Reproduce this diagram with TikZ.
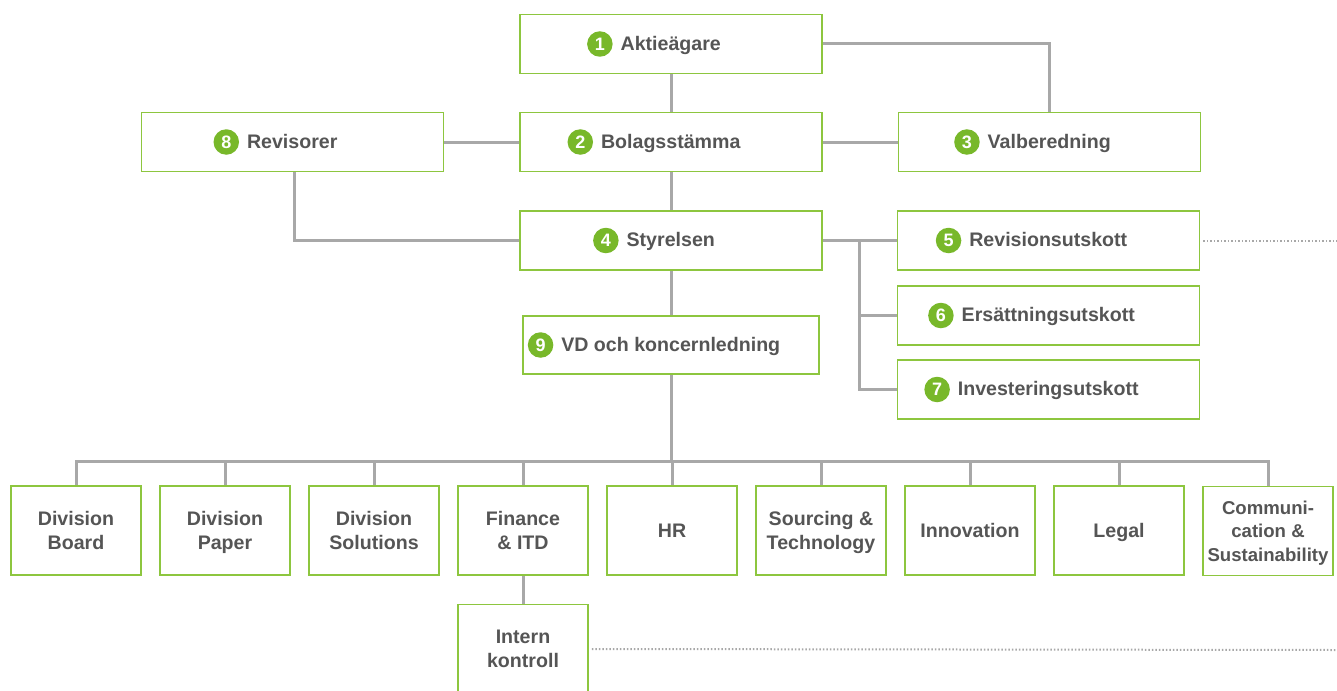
\documentclass[tikz,border=0pt]{standalone}
\usepackage{fontspec}
\setmainfont{Liberation Sans}
\definecolor{boxgreen}{HTML}{8DC63F}
\definecolor{badgegreen}{HTML}{78B82A}
\definecolor{txt}{HTML}{555555}
\definecolor{linegray}{HTML}{A8A8A8}
\newcommand\badge[1]{\tikz[baseline=(bb.base)]\node[circle,fill=badgegreen,text=white,inner sep=0pt,minimum size=25.5pt,font=\bfseries\fontsize{18}{18}\selectfont](bb){#1};}
\newcommand\lab[2]{\badge{#1}\hspace{8pt}#2\hspace*{34pt}}
\tikzset{
  mainbox/.style={draw=boxgreen,line width=1.6pt,fill=white,text=txt,minimum width=302pt,minimum height=59pt,inner sep=0pt,font=\bfseries\fontsize{19.6}{23}\selectfont},
  smallbox/.style={draw=boxgreen,line width=1.6pt,fill=white,text=txt,minimum width=130pt,minimum height=89pt,inner sep=0pt,align=center,text depth=0pt,font=\bfseries\fontsize{19.6}{24}\selectfont},
  conn/.style={draw=linegray,line width=3pt},
  dotline/.style={draw=linegray,line width=2pt,dash pattern=on 1.5pt off 2pt},
}
\begin{document}
\begin{tikzpicture}[x=1pt,y=-1pt]
\useasboundingbox (0,0) rectangle (1337,690);
% coordinates
\coordinate (j) at (859,240.5);
\coordinate (bus) at (671,462);
\coordinate (e1) at (1337,240.5);
\coordinate (e2) at (1337,650);
% main boxes
\node[mainbox] (a1) at (671,44) {\lab{1}{Aktieägare}};
\node[mainbox] (a2) at (671,142) {\lab{2}{Bolagsstämma}};
\node[mainbox] (a8) at (292.5,142) {\lab{8}{Revisorer}};
\node[mainbox] (a3) at (1049.5,142) {\lab{3}{Valberedning}};
\node[mainbox] (a4) at (671,240.5) {\lab{4}{Styrelsen}};
\node[mainbox] (a5) at (1048.5,240.5) {\lab{5}{Revisionsutskott}};
\node[mainbox] (a6) at (1048.5,315.5) {\lab{6}{Ersättningsutskott}};
\node[mainbox] (a7) at (1048.5,389.5) {\lab{7}{Investeringsutskott}};
\node[mainbox,minimum width=296pt,minimum height=58pt] (a9) at (671,345) {\lab{9}{VD och koncernledning}};
% bottom row
\node[smallbox] (b1) at (76,530.5) {Division\\Board};
\node[smallbox] (b2) at (225,530.5) {Division\\Paper};
\node[smallbox] (b3) at (374,530.5) {Division\\Solutions};
\node[smallbox] (b4) at (523,530.5) {Finance\\\& ITD};
\node[smallbox] (b5) at (672,530.5) {HR};
\node[smallbox] (b6) at (821,530.5) {Sourcing \&\\Technology};
\node[smallbox] (b7) at (970,530.5) {Innovation};
\node[smallbox] (b8) at (1119,530.5) {Legal};
\node[smallbox,font=\bfseries\fontsize{18.6}{23.5}\selectfont] (b9) at (1268,531) {Communi-\\cation \&\\Sustainability};
\node[smallbox] (ic) at (523,649) {Intern\\kontroll};
% connectors
\draw[conn] (a1.east) -| (a3.north);
\draw[conn] (a1.south) -- (a2.north);
\draw[conn] (a8.east) -- (a2.west);
\draw[conn] (a2.east) -- (a3.west);
\draw[conn] (a2.south) -- (a4.north);
\draw[conn] ([xshift=1.5pt]a8.south) |- (a4.west);
\draw[conn] (a4.east) -- (a5.west);
\draw[conn] (j) |- (a6.west);
\draw[conn] (j) |- (a7.west);
\draw[conn] (a4.south) -- (a9.north);
\draw[conn] (a9.south) -- (bus);
\draw[conn] (b1.north) -- ++(0,-24) -| (b9.north);
\foreach \n in {b2,b3,b4,b5,b6,b7,b8} {\draw[conn] (\n.north) -- ++(0,-24);}
\draw[conn] (b4.south) -- (ic.north);
\draw[dotline] ([xshift=3pt]a5.east) -- (e1);
\draw[dotline] ([xshift=3pt]ic.east) -- (e2);
\end{tikzpicture}
\end{document}
